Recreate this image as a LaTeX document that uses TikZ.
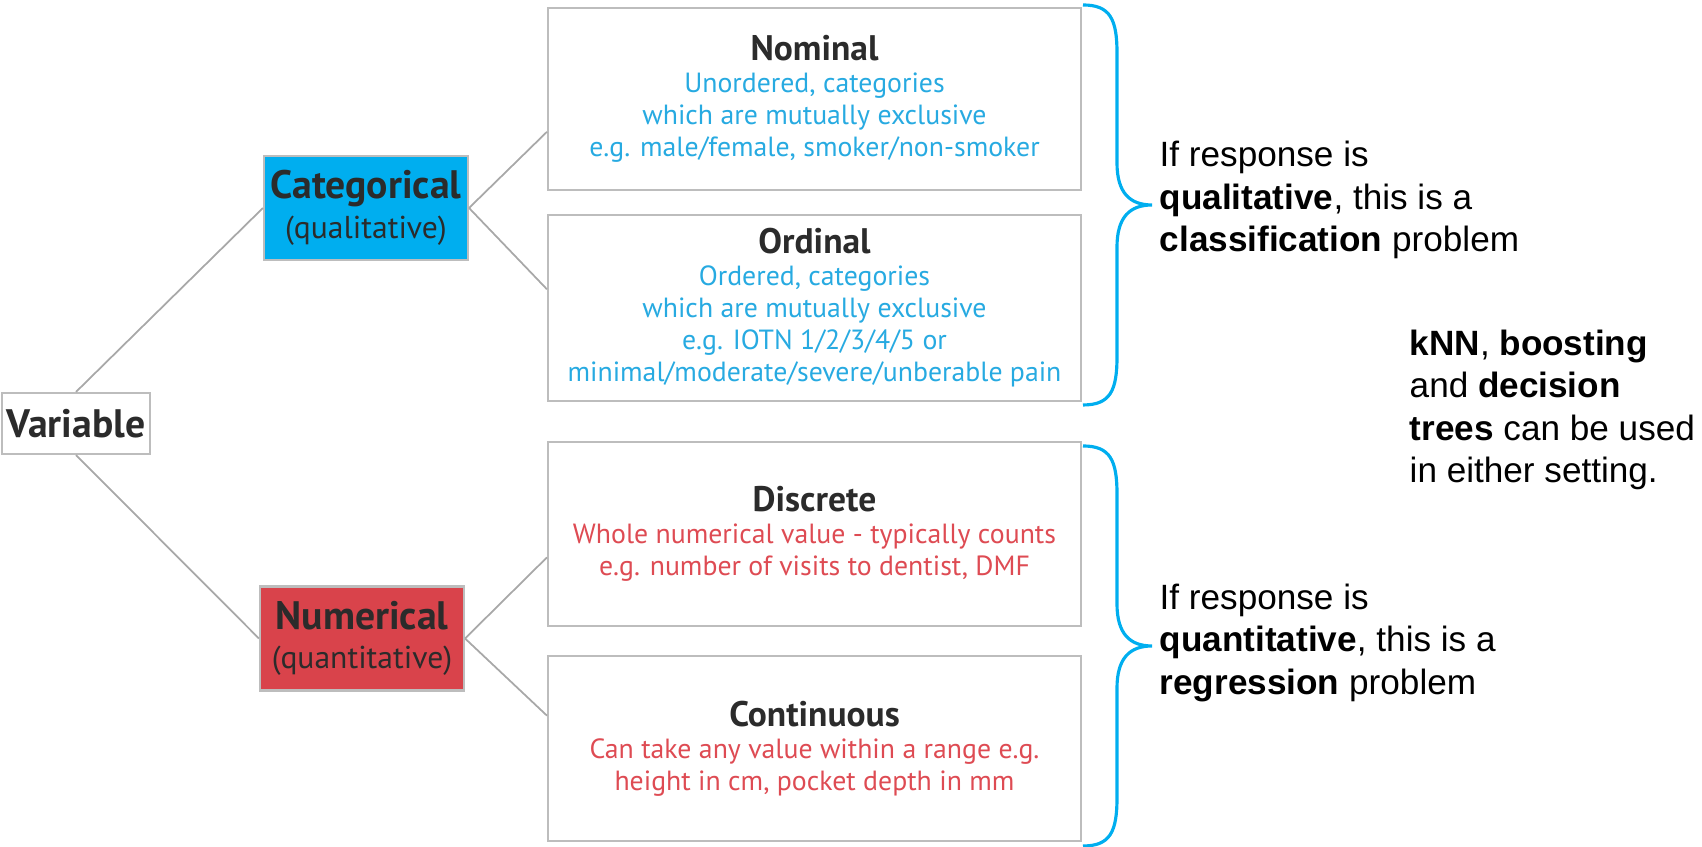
\documentclass[tikz,border=0pt]{standalone}
\usepackage{fontspec}
\setmainfont{Liberation Sans}
\newfontfamily\boxfont{PT Sans}
\usepackage{tikz}
\usetikzlibrary{positioning}
\definecolor{catblue}{HTML}{00AEEF}
\definecolor{numred}{HTML}{D9434B}
\definecolor{txtblue}{HTML}{27AAE1}
\definecolor{txtred}{HTML}{DE4B53}
\definecolor{boxgrey}{HTML}{BDBDBD}
\definecolor{linegrey}{HTML}{A8A8A8}
\definecolor{headgrey}{HTML}{2B2B2B}
\newcommand{\lvlhead}[1]{{\fontsize{10.1}{10.1}\selectfont\bfseries\color{headgrey}#1}}
\newcommand{\kindsub}[1]{{\fontsize{9}{9}\selectfont #1}}

\begin{document}
\begin{tikzpicture}[
every node/.style={font=\boxfont},
kind/.style={draw=boxgrey,line width=0.6pt,minimum width=20.4mm,minimum height=10.4mm,
align=center,inner sep=1pt,font=\boxfont\fontsize{11.3}{11.3}\selectfont,text=headgrey},
levelbox/.style={draw=boxgrey,line width=0.6pt,minimum width=53.3mm,align=center,
inner sep=2pt,font=\boxfont\fontsize{7.9}{9.1}\selectfont},
link/.style={draw=linegrey,line width=0.5pt},
bracepen/.style={draw=catblue,line width=0.9pt},
note/.style={font=\fontsize{10}{12}\selectfont,align=left,anchor=west,inner sep=0pt},
curly/.pic={
\draw[bracepen] (0,4) .. controls (0.27,4) and (0.34,3.86) .. (0.34,3.52) -- (0.34,2.42)
 .. controls (0.34,2.12) and (0.47,2) .. (0.69,2) .. controls (0.47,2) and (0.34,1.88) .. (0.34,1.58)
 -- (0.34,0.48) .. controls (0.34,0.14) and (0.27,0) .. (0,0);}
]
\useasboundingbox (0,0) rectangle (17.02,8.47);
% left part: variable and its two kinds
\node[kind,fill=white,minimum width=14.8mm,minimum height=6.1mm] (var) at (0.76,4.235) {\textbf{Variable}};
\node[kind,fill=catblue] (cat) at (3.66,6.39) {\textbf{Categorical}\\\kindsub{(qualitative)}};
\node[kind,fill=numred] (num) at (3.62,2.085) {\textbf{Numerical}\\\kindsub{(quantitative)}};

% levels of measurement
\node[levelbox,minimum height=18.2mm,text=txtblue] (nom) at (8.145,7.48)
  {\lvlhead{Nominal}\\Unordered, categories\\which are mutually exclusive\\e.g. male/female, smoker/non-smoker};
\node[levelbox,minimum height=18.6mm,text=txtblue] (ord) at (8.145,5.39)
  {\lvlhead{Ordinal}\\Ordered, categories\\which are mutually exclusive\\e.g. IOTN 1/2/3/4/5 or\\minimal/moderate/severe/unberable pain};
\node[levelbox,minimum height=18.4mm,text=txtred] (dis) at (8.145,3.13)
  {\lvlhead{Discrete}\\Whole numerical value - typically counts\\e.g. number of visits to dentist, DMF};
\node[levelbox,minimum height=18.5mm,text=txtred] (con) at (8.145,0.985)
  {\lvlhead{Continuous}\\Can take any value within a range e.g.\\height in cm, pocket depth in mm};

\draw[link] (var.north) -- (cat.west); \draw[link] (var.south) -- (num.west);
\draw[link] (cat.east) -- (nom.187); \draw[link] (cat.east) -- (ord.176);
\draw[link] (num.east) -- (dis.185); \draw[link] (num.east) -- (con.173);

% braces and notes
\pic at (10.83,4.42) {curly};
\pic at (10.83,0.01) {curly};
\node[note] (qual) at (11.59,6.47) {If response is\\\textbf{qualitative}, this is a\\\textbf{classification} problem};
\node[note] (quan) at (11.59,2.04) {If response is\\\textbf{quantitative}, this is a\\\textbf{regression} problem};
\node[note] (both) at (14.09,4.37) {\textbf{kNN}, \textbf{boosting}\\and \textbf{decision}\\\textbf{trees} can be used\\in either setting.};
\end{tikzpicture}
\end{document}
